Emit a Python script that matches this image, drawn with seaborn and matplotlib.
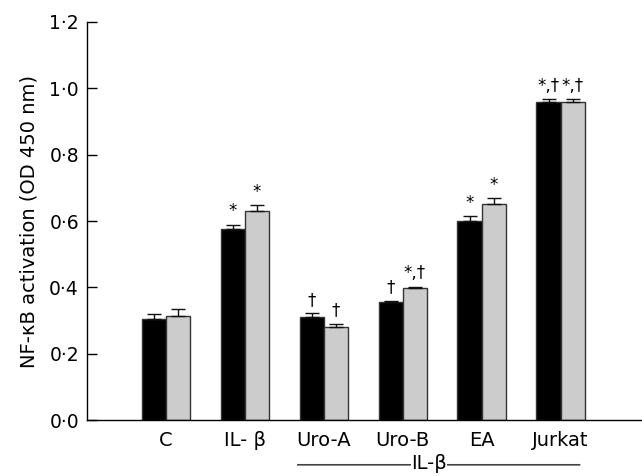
import matplotlib
matplotlib.use("Agg")
import matplotlib.pyplot as plt
from matplotlib.ticker import FuncFormatter
import seaborn as sns
import pandas as pd

# values
groups = ["C", "IL- β", "Uro-A", "Uro-B", "EA", "Jurkat"]
series = ["A", "B"]
vals_a = [0.305, 0.575, 0.311, 0.355, 0.601, 0.958]
vals_b = [0.314, 0.630, 0.279, 0.397, 0.652, 0.958]
err_a = [0.015, 0.014, 0.011, 0.005, 0.013, 0.010]
err_b = [0.022, 0.017, 0.011, 0.005, 0.016, 0.010]
marks_a = ["", "*", "†", "†", "*", "*,†"]
marks_b = ["", "*", "†", "*,†", "*", "*,†"]

df = pd.DataFrame({
    "group": groups * 2,
    "series": ["A"] * 6 + ["B"] * 6,
    "value": vals_a + vals_b,
})

sns.set_style("ticks")
plt.rcParams["font.family"] = ["DejaVu Sans"]
plt.rcParams.update({"text.color": "black", "axes.labelcolor": "black",
                     "xtick.color": "black", "ytick.color": "black",
                     "axes.edgecolor": "black"})

fig = plt.figure(figsize=(6.42, 4.76), dpi=100)
ax = fig.add_axes([0.136, 0.1176, 0.864, 0.8362])

sns.barplot(data=df, x="group", y="value", hue="series", order=groups,
            hue_order=series, palette=["#000000", "#cccccc"], width=0.613,
            edgecolor="#333333", linewidth=1.0, errorbar=None, legend=False,
            saturation=1, ax=ax)

# error bars (upper only) and significance marks from the drawn bars
bars = ax.patches
errs = err_a + err_b
marks = marks_a + marks_b
for bar, e, m in zip(bars, errs, marks):
    cx = bar.get_x() + bar.get_width() / 2
    top = bar.get_height()
    ax.errorbar(cx, top, yerr=[[0], [e]], fmt="none", ecolor="#111111",
                elinewidth=1.0, capsize=4.7, capthick=1.0)
    if m:
        ax.text(cx, top + e + 0.025, m, ha="center", va="baseline", fontsize=12)

ax.set_ylim(0, 1.2)
ax.set_xlim(-0.994, 6.03)
ax.set_yticks([0, 0.2, 0.4, 0.6, 0.8, 1.0, 1.2])
ax.yaxis.set_major_formatter(FuncFormatter(lambda v, p: f"{v:.1f}".replace(".", "·")))
ax.tick_params(axis="y", direction="in", length=7, width=1, labelsize=13.5, pad=6)
ax.tick_params(axis="x", length=0, labelsize=14, pad=8)
ax.set_xlabel("")
ax.set_ylabel("NF-κB activation (OD 450 nm)", fontsize=14, labelpad=8)
sns.despine(ax=ax)
ax.spines["left"].set_linewidth(1.0)
ax.spines["bottom"].set_linewidth(1.0)

# IL-β bracket under the treated groups
x0 = groups.index("Uro-A") - 0.365
x1 = groups.index("Jurkat") + 0.277
ax.annotate("", xy=(x0, -0.135), xytext=(x1, -0.135),
            arrowprops=dict(arrowstyle="-", color="#444444", lw=1.2),
            annotation_clip=False)
ax.text(3.33, -0.132, "IL-β", ha="center", va="center", fontsize=14,
        bbox=dict(facecolor="white", edgecolor="none", pad=0.3), clip_on=False)

fig.savefig("out.png", dpi=100)
